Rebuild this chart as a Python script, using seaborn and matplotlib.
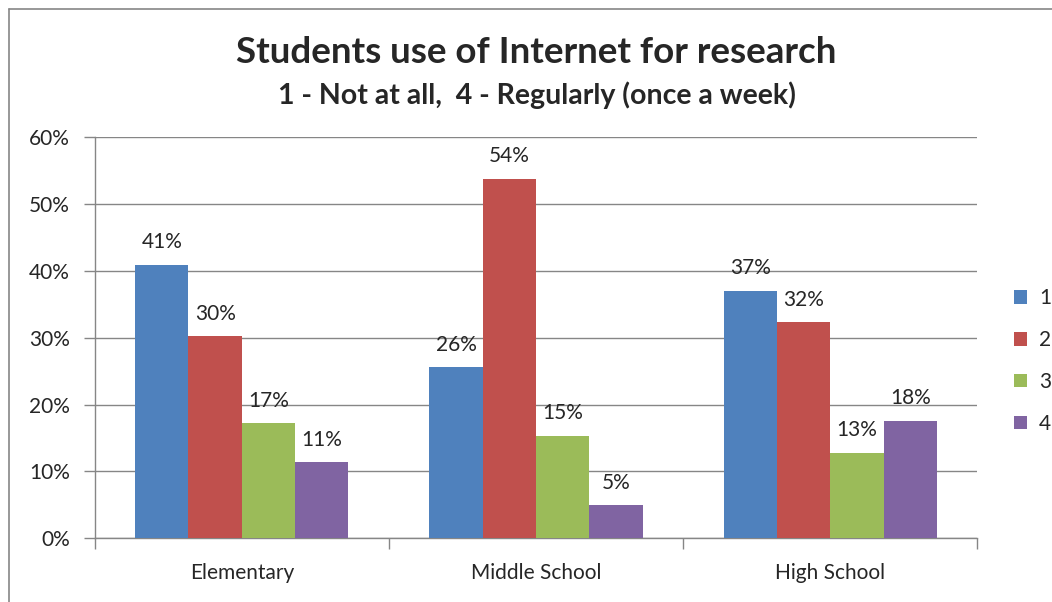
import numpy as np
import pandas as pd
import seaborn as sns
import matplotlib
matplotlib.use('Agg')
import matplotlib.pyplot as plt
from matplotlib.patches import Patch
from matplotlib.lines import Line2D

levels = ["Elementary", "Middle School", "High School"]
ratings = ["1", "2", "3", "4"]
r1 = [40.9, 25.6, 37.0]
r2 = [30.2, 53.8, 32.3]
r3 = [17.2, 15.3, 12.8]
r4 = [11.4, 4.9, 17.6]
colors = ["#4F81BD", "#C0504D", "#9BBB59", "#8064A2"]

rows = []
for rating, vals in zip(ratings, [r1, r2, r3, r4]):
    for lvl, v in zip(levels, vals):
        rows.append({"level": lvl, "rating": rating, "pct": v})
df = pd.DataFrame(rows)

sns.set_style("white")
plt.rcParams['font.family'] = ['Lato', 'DejaVu Sans']

fig = plt.figure(figsize=(10.52, 6.02), dpi=100)
ax = fig.add_axes([0.090, 0.106, 0.839, 0.666])

sns.barplot(data=df, x="level", y="pct", hue="rating", order=levels,
            hue_order=ratings, palette=colors, width=0.725, gap=0,
            saturation=1, errorbar=None, ax=ax, legend=False, zorder=3,
            linewidth=0)

for cont in ax.containers:
    ax.bar_label(cont, labels=[f"{b.get_height():.0f}%" for b in cont],
                 padding=9, fontsize=15, color="#262626")

ax.set_ylim(0, 60)
ax.set_xlim(-0.5, 2.5)
ax.set_yticks(range(0, 61, 10))
ax.set_yticklabels([f"{t}%" for t in range(0, 61, 10)], fontsize=15, color="#262626")
ax.set_xticks(range(3))
ax.set_xticklabels(levels, fontsize=15, color="#262626")
ax.set_xticks([-0.5, 0.5, 1.5, 2.5], minor=True)
ax.tick_params(axis='x', which='major', length=0, pad=18)
ax.tick_params(axis='x', which='minor', length=8, color="#868686", width=1, direction='out', bottom=True)
ax.tick_params(axis='y', length=8, color="#868686", width=1, direction='out', left=True, pad=10)
ax.set_xlabel("")
ax.set_ylabel("")
ax.yaxis.grid(True, color="#868686", linewidth=1)
ax.set_axisbelow(True)
for s in ["top", "right"]:
    ax.spines[s].set_visible(False)
for s in ["left", "bottom"]:
    ax.spines[s].set_color("#868686")
    ax.spines[s].set_linewidth(1)

fig.text(0.51, 0.912, "Students use of Internet for research", ha="center",
         va="center", fontsize=26.5, fontweight="bold")
fig.text(0.51, 0.842, "1 - Not at all,  4 - Regularly (once a week)", ha="center",
         va="center", fontsize=20.5, fontweight="bold")

handles = [Patch(facecolor=c, edgecolor="none") for c in colors]
fig.legend(handles, ratings, loc="center left", bbox_to_anchor=(0.964, 0.40),
           frameon=False, fontsize=15, handlelength=0.6, handleheight=0.6,
           labelspacing=1.05, handletextpad=0.6, borderaxespad=0, borderpad=0)

# chart border
fig.add_artist(Line2D([0.009, 0.009], [0.0, 0.985], transform=fig.transFigure,
                      color="#868686", linewidth=1.2))
fig.add_artist(Line2D([0.009, 1.0], [0.985, 0.985], transform=fig.transFigure,
                      color="#868686", linewidth=1.2))

fig.savefig("out.png", dpi=100)
